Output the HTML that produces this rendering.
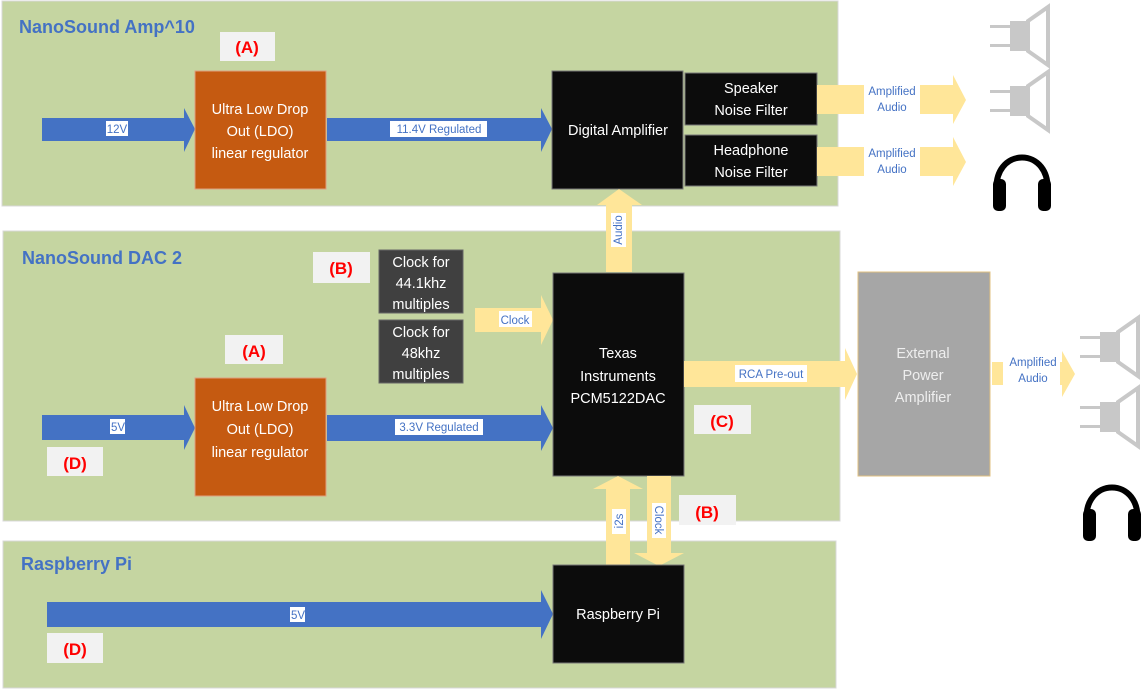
<!DOCTYPE html>
<html><head><meta charset="utf-8"><style>
html,body{margin:0;padding:0;background:#fff;}
svg{display:block;font-family:"Liberation Sans",sans-serif;}
.t{fill:#fff;font-size:14.5px;text-anchor:middle;}
.h{fill:#4472c4;font-size:18px;font-weight:bold;}
.s{fill:#4472c4;font-size:11.5px;text-anchor:middle;}
.r{fill:#ff0000;font-size:17px;font-weight:bold;text-anchor:middle;}
</style></head><body>
<svg width="1147" height="689" viewBox="0 0 1147 689">
<defs>
<g id="spk" fill="#c8c8c8"><rect x="20" y="14" width="18" height="30"/><rect x="0" y="18" width="20" height="3"/><rect x="0" y="37" width="20" height="3"/><path d="M38 14 L58 0 L58 58 L38 44 Z" fill="none" stroke="#c8c8c8" stroke-width="4"/></g>
<g id="hp"><path d="M7 50 C0 0 64 0 57 50" fill="none" stroke="#000" stroke-width="6"/><rect x="3" y="34" width="13" height="32" rx="5" fill="#000"/><rect x="48" y="34" width="13" height="32" rx="5" fill="#000"/></g>
</defs>
<!-- panels -->
<rect x="2" y="1" width="836" height="205" fill="#c5d5a1" stroke="#d8d8d8"/>
<rect x="3" y="231" width="837" height="290" fill="#c5d5a1" stroke="#d8d8d8"/>
<rect x="3" y="541" width="833" height="147" fill="#c5d5a1" stroke="#d8d8d8"/>
<text x="19" y="33" class="h">NanoSound Amp^10</text>
<text x="22" y="264" class="h">NanoSound DAC 2</text>
<text x="21" y="570" class="h">Raspberry Pi</text>

<!-- panel 1 -->
<rect x="220" y="32" width="55" height="29" fill="#f2f2f2"/><text x="247" y="53" class="r">(A)</text>
<path d="M42 118 H184 V108 L195 129 L184 152 V141 H42 Z" fill="#4472c4"/>
<rect x="106" y="121" width="22" height="15" fill="#fff"/><text x="117" y="133" class="s">12V</text>
<rect x="195" y="71" width="131" height="118" fill="#c55a11" stroke="#e0a080"/>
<text class="t"><tspan x="260" y="114">Ultra Low Drop</tspan><tspan x="260" y="136">Out (LDO)</tspan><tspan x="260" y="158">linear regulator</tspan></text>
<path d="M327 118 H541 V108 L552 129 L541 152 V141 H327 Z" fill="#4472c4"/>
<rect x="390" y="121" width="97" height="16" fill="#fff"/><text x="439" y="133" class="s">11.4V Regulated</text>
<rect x="552" y="71" width="131" height="118" fill="#0c0c0c" stroke="#777"/>
<text x="618" y="135" class="t">Digital Amplifier</text>
<rect x="685" y="73" width="132" height="52" fill="#0c0c0c" stroke="#777"/>
<text class="t"><tspan x="751" y="93">Speaker</tspan><tspan x="751" y="115">Noise Filter</tspan></text>
<rect x="685" y="135" width="132" height="51" fill="#0c0c0c" stroke="#777"/>
<text class="t"><tspan x="751" y="155">Headphone</tspan><tspan x="751" y="177">Noise Filter</tspan></text>
<path d="M817 85 H953 V75 L966 100 L953 124 V114 H817 Z" fill="#ffe699"/>
<path d="M817 147 H953 V137 L966 162 L953 186 V176 H817 Z" fill="#ffe699"/>
<rect x="864" y="82" width="56" height="34" fill="#fff"/><text class="s"><tspan x="892" y="95">Amplified</tspan><tspan x="892" y="111">Audio</tspan></text>
<rect x="864" y="144" width="56" height="34" fill="#fff"/><text class="s"><tspan x="892" y="157">Amplified</tspan><tspan x="892" y="173">Audio</tspan></text>
<use href="#spk" x="990" y="7"/><use href="#spk" x="990" y="72"/>
<use href="#hp" x="990" y="145"/>

<!-- audio up arrow -->
<path d="M606 272 V205 H597 L619 189 L642 205 H632 V272 Z" fill="#ffe699"/>
<rect x="611" y="213" width="15" height="34" fill="#fff"/><text x="0" y="0" class="s" transform="translate(622,230) rotate(-90)">Audio</text>

<!-- panel 2 -->
<rect x="313" y="252" width="57" height="31" fill="#f2f2f2"/><text x="341" y="274" class="r">(B)</text>
<rect x="379" y="250" width="84" height="63" fill="#404040" stroke="#666"/>
<text class="t"><tspan x="421" y="267">Clock for</tspan><tspan x="421" y="288">44.1khz</tspan><tspan x="421" y="309">multiples</tspan></text>
<rect x="379" y="320" width="84" height="63" fill="#404040" stroke="#666"/>
<text class="t"><tspan x="421" y="337">Clock for</tspan><tspan x="421" y="358">48khz</tspan><tspan x="421" y="379">multiples</tspan></text>
<path d="M475 308 H541 V295 L553 320 L541 345 V332 H475 Z" fill="#ffe699"/>
<rect x="499" y="311" width="33" height="16" fill="#fff"/><text x="515" y="324" class="s">Clock</text>
<rect x="225" y="335" width="58" height="29" fill="#f2f2f2"/><text x="254" y="357" class="r">(A)</text>
<path d="M42 415 H184 V405 L195 428 L184 450 V440 H42 Z" fill="#4472c4"/>
<rect x="110" y="419" width="15" height="15" fill="#fff"/><text x="118" y="431" class="s">5V</text>
<rect x="47" y="447" width="56" height="29" fill="#f2f2f2"/><text x="75" y="469" class="r">(D)</text>
<rect x="195" y="378" width="131" height="118" fill="#c55a11" stroke="#e0a080"/>
<text class="t"><tspan x="260" y="411">Ultra Low Drop</tspan><tspan x="260" y="434">Out (LDO)</tspan><tspan x="260" y="457">linear regulator</tspan></text>
<path d="M327 415 H541 V405 L553 428 L541 451 V441 H327 Z" fill="#4472c4"/>
<rect x="395" y="419" width="88" height="16" fill="#fff"/><text x="439" y="431" class="s">3.3V Regulated</text>
<rect x="553" y="273" width="131" height="203" fill="#0c0c0c" stroke="#777"/>
<text class="t"><tspan x="618" y="358">Texas</tspan><tspan x="618" y="381">Instruments</tspan><tspan x="618" y="403">PCM5122DAC</tspan></text>
<path d="M684 361 H845 V348 L857 374 L845 400 V387 H684 Z" fill="#ffe699"/>
<rect x="735" y="365" width="72" height="17" fill="#fff"/><text x="771" y="378" class="s">RCA Pre-out</text>
<rect x="694" y="405" width="57" height="29" fill="#f2f2f2"/><text x="722" y="427" class="r">(C)</text>
<rect x="858" y="272" width="132" height="204" fill="#a6a6a6" stroke="#e0c080"/>
<text class="t" style="fill:#eee"><tspan x="923" y="358">External</tspan><tspan x="923" y="380">Power</tspan><tspan x="923" y="402">Amplifier</tspan></text>
<path d="M992 362 H1003 V385 H992 Z" fill="#ffe699"/>
<path d="M1060 362 H1062 V351 L1075 374 L1062 397 V385 H1060 Z" fill="#ffe699"/>
<text class="s"><tspan x="1033" y="366">Amplified</tspan><tspan x="1033" y="382">Audio</tspan></text>
<use href="#spk" x="1080" y="318"/><use href="#spk" x="1080" y="388"/>
<use href="#hp" x="1080" y="475"/>

<!-- i2s / clock -->
<path d="M606 565 V489 H593 L618 476 L643 489 H630 V565 Z" fill="#ffe699"/>
<rect x="612" y="509" width="14" height="25" fill="#fff"/><text class="s" transform="translate(623,521) rotate(-90)">i2s</text>
<path d="M647 476 V553 H634 L659 566 L684 553 H671 V476 Z" fill="#ffe699"/>
<rect x="652" y="503" width="14" height="35" fill="#fff"/><text class="s" transform="translate(655,520) rotate(90)">Clock</text>
<rect x="679" y="495" width="57" height="30" fill="#f2f2f2"/><text x="707" y="518" class="r">(B)</text>

<!-- panel 3 -->
<path d="M47 602 H541 V590 L553 614 L541 639 V627 H47 Z" fill="#4472c4"/>
<rect x="290" y="607" width="15" height="15" fill="#fff"/><text x="298" y="619" class="s">5V</text>
<rect x="47" y="633" width="56" height="30" fill="#f2f2f2"/><text x="75" y="655" class="r">(D)</text>
<rect x="553" y="565" width="131" height="98" fill="#0c0c0c" stroke="#777"/>
<text x="618" y="619" class="t">Raspberry Pi</text>
</svg>
</body></html>
